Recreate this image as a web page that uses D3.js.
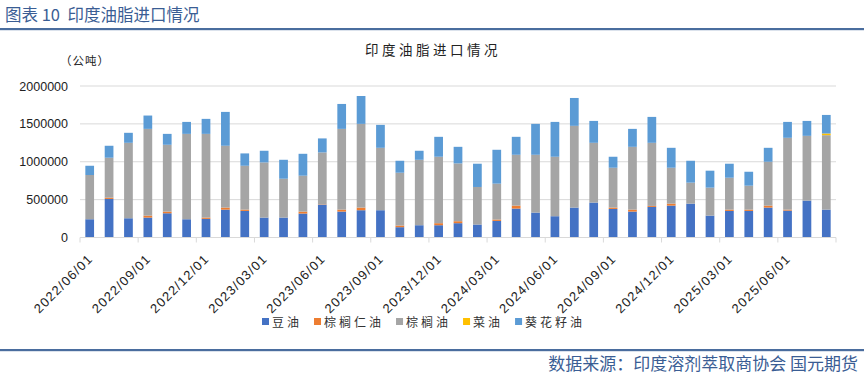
<!DOCTYPE html>
<html>
<head>
<meta charset="utf-8">
<script src="https://cdn.jsdelivr.net/npm/d3@7"></script>
<style>
  body { margin: 0; background: #fff; }
  svg { display: block; font-family: "Liberation Sans", Arial, sans-serif; }
  .cjk { font-family: "Noto Sans CJK SC", sans-serif; white-space: pre; }
</style>
</head>
<body>
<svg id="canvas" width="864" height="376"></svg>
<script>
// months 2022/06 .. 2025/08
const months = [
  "2022/06/01", "2022/07/01", "2022/08/01", "2022/09/01", "2022/10/01", "2022/11/01",
  "2022/12/01", "2023/01/01", "2023/02/01", "2023/03/01", "2023/04/01", "2023/05/01",
  "2023/06/01", "2023/07/01", "2023/08/01", "2023/09/01", "2023/10/01", "2023/11/01",
  "2023/12/01", "2024/01/01", "2024/02/01", "2024/03/01", "2024/04/01", "2024/05/01",
  "2024/06/01", "2024/07/01", "2024/08/01", "2024/09/01", "2024/10/01", "2024/11/01",
  "2024/12/01", "2025/01/01", "2025/02/01", "2025/03/01", "2025/04/01", "2025/05/01",
  "2025/06/01", "2025/07/01", "2025/08/01"
];

// tonnes
const soyOil = [
  241000, 509000, 254000, 263000, 320000, 241000, 246000, 368000, 351000, 263000,
  263000, 316000, 434000, 342000, 360000, 360000, 136000, 162000, 162000, 189000,
  171000, 219000, 382000, 329000, 281000, 395000, 461000, 377000, 342000, 404000,
  421000, 447000, 289000, 351000, 351000, 395000, 355000, 487000, 368000
];
const palmKernelOil = [
  0, 17000, 0, 26000, 22000, 0, 17000, 27000, 17000, 0,
  0, 26000, 5000, 26000, 35000, 0, 22000, 0, 27000, 26000,
  0, 18000, 39000, 0, 0, 0, 0, 18000, 26000, 13000,
  26000, 0, 0, 17000, 17000, 26000, 13000, 0, 0
];
const palmOil = [
  584000, 527000, 996000, 1145000, 882000, 1127000, 1105000, 816000, 579000, 728000,
  513000, 474000, 684000, 1066000, 1105000, 824000, 697000, 864000, 877000, 763000,
  496000, 474000, 671000, 763000, 785000, 1079000, 789000, 526000, 829000, 833000,
  474000, 277000, 369000, 421000, 316000, 579000, 948000, 855000, 983000
];
const rapeseedOil = [
  0, 0, 0, 0, 0, 0, 0, 0, 0, 0,
  0, 0, 0, 0, 0, 0, 0, 0, 0, 0,
  0, 0, 0, 0, 0, 0, 0, 0, 0, 0,
  0, 0, 0, 0, 0, 0, 0, 0, 22000
];
const sunflowerOil = [
  122000, 158000, 132000, 176000, 144000, 158000, 198000, 447000, 163000, 154000,
  250000, 289000, 185000, 329000, 368000, 303000, 158000, 119000, 263000, 219000,
  307000, 447000, 237000, 408000, 460000, 368000, 289000, 145000, 237000, 342000,
  263000, 289000, 224000, 185000, 184000, 184000, 210000, 197000, 245000
];

const seriesNames = ["豆油", "棕榈仁油", "棕榈油", "菜油", "葵花籽油"];
const seriesColors = ["#4472C4", "#ED7D31", "#A5A5A5", "#FFC000", "#5B9BD5"];
const yTicks = [0, 500000, 1000000, 1500000, 2000000];

const svg = d3.select("#canvas");
const plotLeft = 80, plotRight = 836, plotTop = 86, plotBottom = 237.5;

// header
svg.append("text").attr("class", "cjk")
  .attr("x", 5).attr("y", 21)
  .attr("font-size", 16.5).attr("fill", "#3a5d94")
  .text("图表 10  印度油脂进口情况");
svg.append("rect").attr("x", 0).attr("y", 28).attr("width", 864).attr("height", 2.2).attr("fill", "#4a6d9e");

// footer
svg.append("rect").attr("x", 0).attr("y", 349).attr("width", 864).attr("height", 2.2).attr("fill", "#4a6d9e");
svg.append("text").attr("class", "cjk")
  .attr("x", 858).attr("y", 370).attr("text-anchor", "end")
  .attr("font-size", 17).attr("fill", "#3a5d94")
  .text("数据来源：印度溶剂萃取商协会 国元期货");

// chart title
svg.append("text").attr("class", "cjk")
  .attr("x", 433).attr("y", 55).attr("text-anchor", "middle")
  .attr("font-size", 13.5).attr("letter-spacing", 3.5).attr("fill", "#222")
  .text("印度油脂进口情况");

svg.append("text").attr("class", "cjk")
  .attr("x", 60).attr("y", 65)
  .attr("font-size", 11.5).attr("letter-spacing", 1).attr("fill", "#222")
  .text("（公吨）");

const x = d3.scaleBand().domain(months).range([plotLeft, plotRight]).paddingInner(0.55).paddingOuter(0.275);
const y = d3.scaleLinear().domain([0, 2000000]).range([plotBottom, plotTop]);

// gridlines
svg.append("g").selectAll("line")
  .data(yTicks.slice(1))
  .enter().append("line")
  .attr("x1", plotLeft).attr("x2", plotRight)
  .attr("y1", (d) => y(d)).attr("y2", (d) => y(d))
  .attr("stroke", "#d9d9d9").attr("stroke-width", 1);

// y axis labels
svg.append("g").selectAll("text")
  .data(yTicks)
  .enter().append("text")
  .attr("x", 68).attr("y", (d) => y(d) + 4.5)
  .attr("text-anchor", "end").attr("font-size", 12.5).attr("fill", "#222")
  .text((d) => d);

// stacked bars
const rows = months.map((m, i) => ({
  month: m,
  s0: soyOil[i], s1: palmKernelOil[i], s2: palmOil[i], s3: rapeseedOil[i], s4: sunflowerOil[i]
}));
const stack = d3.stack().keys(["s0", "s1", "s2", "s3", "s4"])(rows);

svg.append("g").selectAll("g")
  .data(stack)
  .enter().append("g")
  .attr("fill", (d, i) => seriesColors[i])
  .selectAll("rect")
  .data((d) => d)
  .enter().append("rect")
  .attr("x", (d) => x(d.data.month))
  .attr("width", x.bandwidth())
  .attr("y", (d) => y(d[1]))
  .attr("height", (d) => y(d[0]) - y(d[1]));

// x axis line and ticks every 3 months
const step = (plotRight - plotLeft) / months.length;
svg.append("line")
  .attr("x1", plotLeft).attr("x2", plotRight).attr("y1", plotBottom).attr("y2", plotBottom)
  .attr("stroke", "#d9d9d9").attr("stroke-width", 1);
const tickIdx = d3.range(0, months.length + 1, 3);
svg.append("g").selectAll("line")
  .data(tickIdx)
  .enter().append("line")
  .attr("x1", (d) => plotLeft + d * step).attr("x2", (d) => plotLeft + d * step)
  .attr("y1", plotBottom).attr("y2", plotBottom + 5)
  .attr("stroke", "#d9d9d9");

svg.append("g").selectAll("text")
  .data(months.filter((m, i) => i % 3 === 0))
  .enter().append("text")
  .attr("transform", (d) => `translate(${x(d) + x.bandwidth() / 2 + 4},${plotBottom + 22}) rotate(-45)`)
  .attr("text-anchor", "end").attr("font-size", 13).attr("letter-spacing", 1.2).attr("fill", "#222")
  .text((d) => d);

// legend
const legend = svg.append("g").attr("class", "cjk");
let lx = 262;
seriesNames.forEach((name, i) => {
  legend.append("rect").attr("x", lx).attr("y", 318).attr("width", 7).attr("height", 7).attr("fill", seriesColors[i]);
  const t = legend.append("text").attr("x", lx + 10).attr("y", 327)
    .attr("font-size", 12).attr("fill", "#333").attr("letter-spacing", 3).text(name);
  lx += 10 + t.node().getComputedTextLength() + 12;
});
</script>
</body>
</html>
